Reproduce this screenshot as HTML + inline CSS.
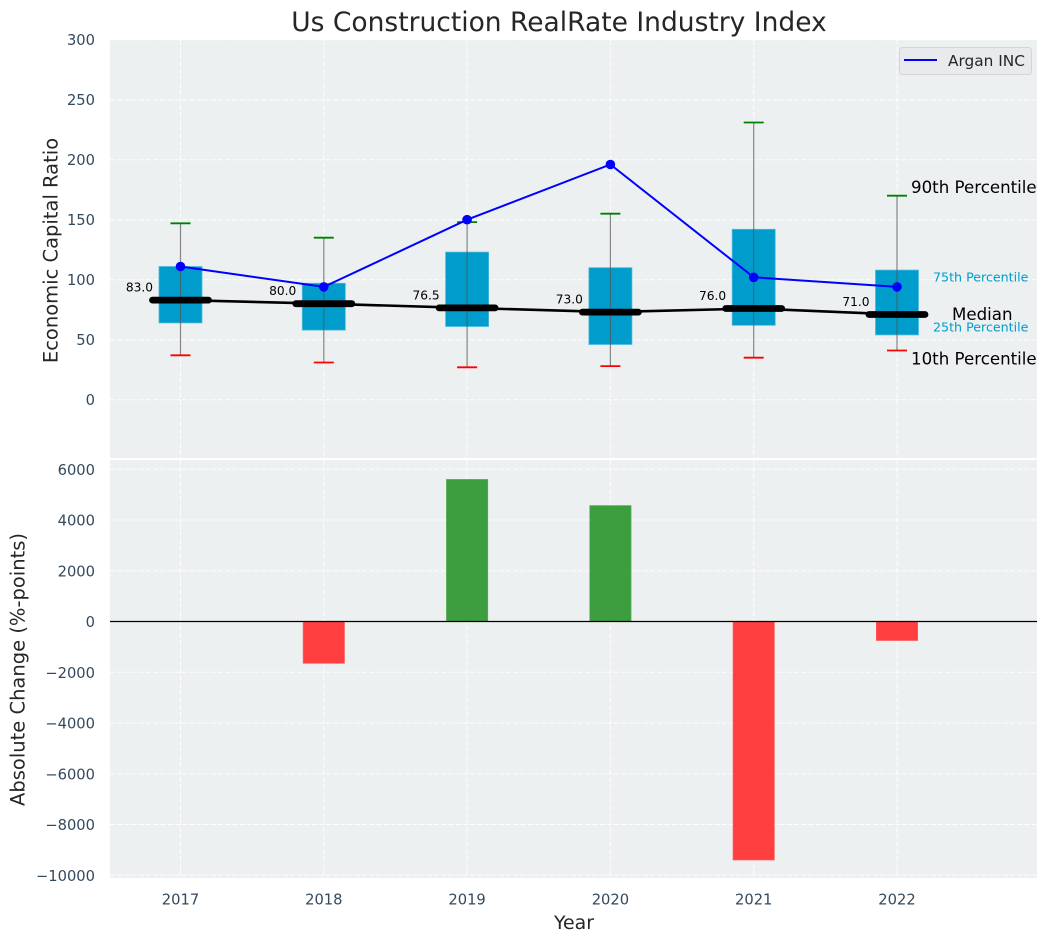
<!DOCTYPE html>
<html>
<head>
<meta charset="utf-8">
<title>Us Construction RealRate Industry Index</title>
<style>
html,body{margin:0;padding:0;background:#fff;width:1048px;height:942px;overflow:hidden}
svg{display:block;font-family:"DejaVu Sans","Liberation Sans",sans-serif}
</style>
</head>
<body>
<svg id="chart" xmlns="http://www.w3.org/2000/svg" width="1048" height="942" viewBox="0 0 1048 942"></svg>
<script>
const years = [2017, 2018, 2019, 2020, 2021, 2022];
const p90 = [147, 135, 148, 155, 231, 170];
const p75 = [111, 97, 123, 110, 142, 108];
const medians = [83, 80, 76.5, 73, 76, 71];
const p25 = [64, 58, 61, 46, 62, 54];
const p10 = [37, 31, 27, 28, 35, 41];
const argan = [111, 94, 150, 196, 102, 94];
const changes = [0, -1650, 5600, 4570, -9400, -750];
const topTicks = [0, 50, 100, 150, 200, 250, 300];
const bottomTicks = [-10000, -8000, -6000, -4000, -2000, 0, 2000, 4000, 6000];

const svg = document.getElementById('chart');
const NS = 'http://www.w3.org/2000/svg';
const L = 110, R = 1037, T1 = 40, B1 = 458, T2 = 460, B2 = 878;

const x = v => 180.5 + (v - 2017) * 143.3;
const y1 = v => 399.7 - v * 1.2;
const y2 = v => 621.5 - v * 0.025375;

function mk(tag, attrs, name, text) {
  const el = document.createElementNS(NS, tag);
  for (const k in attrs) el.setAttribute(k, attrs[k]);
  
  
  if (text !== undefined) el.textContent = text;
  svg.appendChild(el);
  return el;
}
function line(x1, y1v, x2, y2v, stroke, w, name, extra) {
  return mk('line', Object.assign({x1: x1, y1: y1v, x2: x2, y2: y2v, stroke: stroke, 'stroke-width': w}, extra || {}), name);
}
function label(px, py, s, size, fill, anchor, name, extra) {
  return mk('text', Object.assign({x: px, y: py, 'font-size': size, fill: fill, 'text-anchor': anchor || 'start'}, extra || {}), name, s);
}

// panels
mk('rect', {x: L, y: T1, width: R - L, height: B1 - T1, fill: '#ecf0f1'}, 'top-panel-background');
mk('rect', {x: L, y: T2, width: R - L, height: B2 - T2, fill: '#ecf0f1'}, 'bottom-panel-background');

const dash = {'stroke-dasharray': '5 2.2', 'stroke-opacity': '0.9'};

// grids
years.forEach(yr => {
  line(x(yr), T1, x(yr), B1, '#fff', 1, 'top-grid-vertical-' + yr, dash);
  line(x(yr), T2, x(yr), B2, '#fff', 1, 'bottom-grid-vertical-' + yr, dash);
  label(x(yr), 904.5, String(yr), 14.7, '#34495e', 'middle', 'x-tick-' + yr);
});
topTicks.forEach(t => {
  line(L, y1(t), R, y1(t), '#fff', 1, 'top-grid-horizontal-' + t, dash);
  label(95, y1(t) + 5.5, String(t), 14.7, '#34495e', 'end', 'top-y-tick-' + t);
});
bottomTicks.forEach(t => {
  line(L, y2(t), R, y2(t), '#fff', 1, 'bottom-grid-horizontal-' + t, dash);
  label(95, y2(t) + 5.5, String(t).replace('-', '\u2212'), 14.7, '#34495e', 'end', 'bottom-y-tick-' + t);
});

// boxes
years.forEach((yr, i) => {
  mk('rect', {x: x(yr) - 21.5, y: y1(p75[i]), width: 43, height: y1(p25[i]) - y1(p75[i]), fill: '#009ccc', stroke: '#4db9dc', 'stroke-width': 0.8}, 'box-' + yr);
});

// whiskers and caps
years.forEach((yr, i) => {
  line(x(yr), y1(p90[i]), x(yr), y1(p10[i]), '#555', 1.2, 'whisker-' + yr, {'stroke-opacity': '0.7'});
  line(x(yr) - 10, y1(p90[i]), x(yr) + 10, y1(p90[i]), '#008000', 1.8, 'cap-90th-' + yr);
  line(x(yr) - 10, y1(p10[i]), x(yr) + 10, y1(p10[i]), '#ff0000', 1.8, 'cap-10th-' + yr);
});

// median line
mk('polyline', {points: years.map((yr, i) => x(yr) + ',' + y1(medians[i])).join(' '), fill: 'none', stroke: '#000', 'stroke-width': 2.6}, 'median-line');
years.forEach((yr, i) => {
  line(x(yr) - 28, y1(medians[i]), x(yr) + 28, y1(medians[i]), '#000', 6.8, 'median-bar-' + yr, {'stroke-linecap': 'round'});
  label(x(yr) - 27.5, y1(medians[i]) - 8.5, medians[i].toFixed(1), 12.2, '#000', 'end', 'median-value-' + yr);
});

// company series
mk('polyline', {points: years.map((yr, i) => x(yr) + ',' + y1(argan[i])).join(' '), fill: 'none', stroke: '#0000ff', 'stroke-width': 2}, 'argan-line');
years.forEach((yr, i) => {
  mk('circle', {cx: x(yr), cy: y1(argan[i]), r: 4.8, fill: '#0000ff'}, 'argan-point-' + yr);
});

// percentile annotations (beside last year)
const last = years.length - 1, lx = x(years[last]);
label(lx + 14, y1(p90[last]) - 2.6, '90th Percentile', 16.65, '#000', 'start', 'label-90th-percentile');
label(lx + 36, y1(p75[last]) + 11.5, '75th Percentile', 12.65, '#009ccc', 'start', 'label-75th-percentile');
label(lx + 55, y1(medians[last]) + 5.5, 'Median', 16.65, '#000', 'start', 'label-median');
label(lx + 36, y1(p25[last]) - 3.2, '25th Percentile', 12.65, '#009ccc', 'start', 'label-25th-percentile');
label(lx + 14, y1(p10[last]) + 14, '10th Percentile', 16.65, '#000', 'start', 'label-10th-percentile');

// change bars
years.forEach((yr, i) => {
  const v = changes[i];
  if (v === 0) return;
  mk('rect', {x: x(yr) - 20.7, y: Math.min(y2(v), y2(0)), width: 41.4, height: Math.abs(y2(v) - y2(0)),
    fill: v > 0 ? '#3c9e3e' : '#ff3f3f', stroke: v > 0 ? '#5cb05e' : '#ff5f5f', 'stroke-width': 0.6}, 'change-bar-' + yr);
});
line(L, y2(0), R, y2(0), '#000', 1.2, 'zero-line');

// legend
mk('rect', {x: 899.5, y: 47.5, width: 132, height: 27, rx: 3, fill: '#e8eaee', stroke: '#d3d5d8', 'stroke-width': 1}, 'legend-box');
line(904, 60, 937, 60, '#0000ff', 2, 'legend-line-argan');
label(948, 66, 'Argan INC', 15.35, '#262626', 'start', 'legend-label-argan');

// titles
label(559, 31, 'Us Construction RealRate Industry Index', 26.5, '#262626', 'middle', 'chart-title');
label(574, 929, 'Year', 18.9, '#262626', 'middle', 'x-axis-title');
label(0, 0, 'Economic Capital Ratio', 19.5, '#262626', 'middle', 'top-y-axis-title', {transform: 'translate(57.5 250.5) rotate(-90)'});
label(0, 0, 'Absolute Change (%-points)', 19.5, '#262626', 'middle', 'bottom-y-axis-title', {transform: 'translate(24.5 669.5) rotate(-90)'});
</script>
</body>
</html>
